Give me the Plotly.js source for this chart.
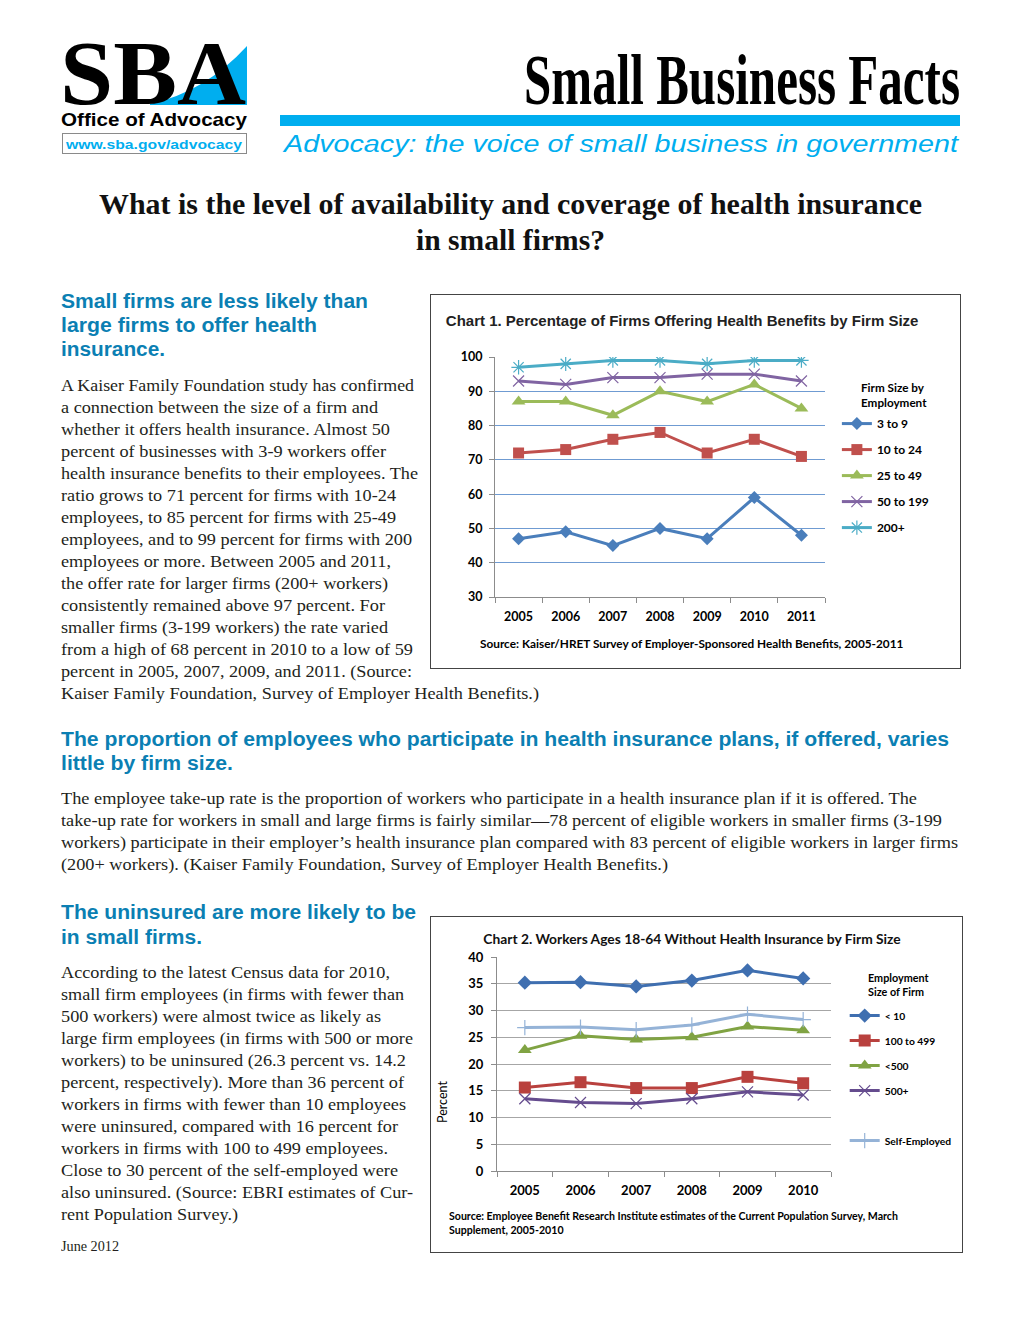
<!DOCTYPE html>
<html>
<head>
<meta charset="utf-8">
<script src="https://cdn.plot.ly/plotly-3.0.1.min.js"></script>
<style>
  html, body { margin:0; padding:0; background:#fff; }
  #page { position:relative; width:1020px; height:1320px; overflow:hidden; background:#fff; }
  .ln { position:absolute; white-space:nowrap; transform-origin:0 50%; }
  .body { font-family:'Liberation Serif','Times New Roman',serif; font-size:16.5px; line-height:22px; height:22px; color:#231f20; }
  .h { font-family:'Liberation Sans',Arial,sans-serif; font-weight:bold; font-size:19.5px; line-height:24px; height:24px; color:#0b7fb3; }
  .ttl { font-family:'Liberation Serif','Times New Roman',serif; font-weight:bold; font-size:30px; line-height:36px; height:36px; color:#111; }
  .box { position:absolute; border:1px solid #444; background:#fff; }
  .chart { position:absolute; }
</style>
</head>
<body>
<div id="page">
  <!-- Logo -->
  <svg style="position:absolute;left:0;top:0" width="260" height="170">
    <path d="M150 104 Q205 92 247 46 L247 105 L150 105 Z" fill="#00aeef"/>
    <text x="60" y="104" font-family="Liberation Serif, Times New Roman, serif" font-weight="bold" font-size="90" textLength="186" lengthAdjust="spacingAndGlyphs" fill="#000">SBA</text>
    <text x="61" y="126" font-family="Liberation Sans, Arial, sans-serif" font-weight="bold" font-size="19" textLength="186" lengthAdjust="spacingAndGlyphs" fill="#000">Office of Advocacy</text>
    <rect x="62.5" y="133.5" width="184" height="20" fill="none" stroke="#8a8a8a" stroke-width="1"/>
    <text x="66" y="148.5" font-family="Liberation Sans, Arial, sans-serif" font-weight="bold" font-size="13.5" textLength="176" lengthAdjust="spacingAndGlyphs" fill="#00aeef">www.sba.gov/advocacy</text>
  </svg>

  <div class="ln" style="left:524px;top:44px;font-family:'Liberation Serif','Times New Roman',serif;font-weight:bold;font-size:72px;line-height:72px;height:72px;color:#000" data-w="436">Small Business Facts</div>
  <div style="position:absolute;left:280px;top:115px;width:680px;height:11px;background:#00aeef"></div>
  <div class="ln" style="left:284px;top:130px;font-family:'Liberation Sans',Arial,sans-serif;font-style:italic;font-size:23px;line-height:28px;height:28px;color:#00aeef" data-w="674">Advocacy: the voice of small business in government</div>

  <div class="ln ttl" style="left:99px;top:186px" data-w="823">What is the level of availability and coverage of health insurance</div>
  <div class="ln ttl" style="left:416px;top:222px" data-w="189">in small firms?</div>

  <!-- Section 1 -->
  <div class="ln h" style="left:61px;top:289px" data-w="307">Small firms are less likely than</div>
  <div class="ln h" style="left:61px;top:313px" data-w="256">large firms to offer health</div>
  <div class="ln h" style="left:61px;top:337px" data-w="104">insurance.</div>

  <div class="ln body" style="left:61px;top:375px" data-w="353">A Kaiser Family Foundation study has confirmed</div>
  <div class="ln body" style="left:61px;top:397px" data-w="317">a connection between the size of a firm and</div>
  <div class="ln body" style="left:61px;top:419px" data-w="329">whether it offers health insurance. Almost 50</div>
  <div class="ln body" style="left:61px;top:441px" data-w="325">percent of businesses with 3-9 workers offer</div>
  <div class="ln body" style="left:61px;top:463px" data-w="357">health insurance benefits to their employees. The</div>
  <div class="ln body" style="left:61px;top:485px" data-w="335">ratio grows to 71 percent for firms with 10-24</div>
  <div class="ln body" style="left:61px;top:507px" data-w="335">employees, to 85 percent for firms with 25-49</div>
  <div class="ln body" style="left:61px;top:529px" data-w="351">employees, and to 99 percent for firms with 200</div>
  <div class="ln body" style="left:61px;top:551px" data-w="330">employees or more. Between 2005 and 2011,</div>
  <div class="ln body" style="left:61px;top:573px" data-w="327">the offer rate for larger firms (200+ workers)</div>
  <div class="ln body" style="left:61px;top:595px" data-w="324">consistently remained above 97 percent. For</div>
  <div class="ln body" style="left:61px;top:617px" data-w="327">smaller firms (3-199 workers) the rate varied</div>
  <div class="ln body" style="left:61px;top:639px" data-w="352">from a high of 68 percent in 2010 to a low of 59</div>
  <div class="ln body" style="left:61px;top:661px" data-w="351">percent in 2005, 2007, 2009, and 2011. (Source:</div>
  <div class="ln body" style="left:61px;top:683px" data-w="478">Kaiser Family Foundation, Survey of Employer Health Benefits.)</div>

  <!-- Section 2 -->
  <div class="ln h" style="left:61px;top:727px" data-w="888">The proportion of employees who participate in health insurance plans, if offered, varies</div>
  <div class="ln h" style="left:61px;top:751px" data-w="172">little by firm size.</div>
  <div class="ln body" style="left:61px;top:788px" data-w="856">The employee take-up rate is the proportion of workers who participate in a health insurance plan if it is offered. The</div>
  <div class="ln body" style="left:61px;top:810px" data-w="881">take-up rate for workers in small and large firms is fairly similar—78 percent of eligible workers in smaller firms (3-199</div>
  <div class="ln body" style="left:61px;top:832px" data-w="897">workers) participate in their employer’s health insurance plan compared with 83 percent of eligible workers in larger firms</div>
  <div class="ln body" style="left:61px;top:854px" data-w="607">(200+ workers). (Kaiser Family Foundation, Survey of Employer Health Benefits.)</div>

  <!-- Section 3 -->
  <div class="ln h" style="left:61px;top:900px" data-w="355">The uninsured are more likely to be</div>
  <div class="ln h" style="left:61px;top:925px" data-w="141">in small firms.</div>
  <div class="ln body" style="left:61px;top:962px" data-w="329">According to the latest Census data for 2010,</div>
  <div class="ln body" style="left:61px;top:984px" data-w="343">small firm employees (in firms with fewer than</div>
  <div class="ln body" style="left:61px;top:1006px" data-w="320">500 workers) were almost twice as likely as</div>
  <div class="ln body" style="left:61px;top:1028px" data-w="352">large firm employees (in firms with 500 or more</div>
  <div class="ln body" style="left:61px;top:1050px" data-w="345">workers) to be uninsured (26.3 percent vs. 14.2</div>
  <div class="ln body" style="left:61px;top:1072px" data-w="343">percent, respectively). More than 36 percent of</div>
  <div class="ln body" style="left:61px;top:1094px" data-w="345">workers in firms with fewer than 10 employees</div>
  <div class="ln body" style="left:61px;top:1116px" data-w="337">were uninsured, compared with 16 percent for</div>
  <div class="ln body" style="left:61px;top:1138px" data-w="327">workers in firms with 100 to 499 employees.</div>
  <div class="ln body" style="left:61px;top:1160px" data-w="337">Close to 30 percent of the self-employed were</div>
  <div class="ln body" style="left:61px;top:1182px" data-w="352">also uninsured. (Source: EBRI estimates of Cur-</div>
  <div class="ln body" style="left:61px;top:1204px" data-w="177">rent Population Survey.)</div>
  <div class="ln body" style="left:61px;top:1238px;font-size:14px;line-height:18px;height:18px" data-w="58">June 2012</div>

  <div class="box" style="left:430px;top:294px;width:529px;height:373px"></div>
  <div id="chart1" class="chart" style="left:431px;top:295px;width:529px;height:373px"></div>
  <div class="box" style="left:430px;top:916px;width:531px;height:335px"></div>
  <div id="chart2" class="chart" style="left:431px;top:917px;width:530px;height:334px"></div>
</div>

<script>
// ---------- Chart 1 data ----------
const years1 = ['2005', '2006', '2007', '2008', '2009', '2010', '2011'];
const firms3to9 = [47, 49, 45, 50, 47, 59, 48];
const firms10to24 = [72, 73, 76, 78, 72, 76, 71];
const firms25to49 = [87, 87, 83, 90, 87, 92, 85];
const firms50to199 = [93, 92, 94, 94, 95, 95, 93];
const firms200plus = [97, 98, 99, 99, 98, 99, 99];
const names1 = ['3 to 9', '10 to 24', '25 to 49', '50 to 199', '200+'];

// ---------- Chart 2 data ----------
const years2 = ['2005', '2006', '2007', '2008', '2009', '2010'];
const under10 = [35.2, 35.3, 34.5, 35.6, 37.5, 36.0];
const size100to499 = [15.6, 16.6, 15.5, 15.5, 17.6, 16.4];
const under500 = [22.6, 25.3, 24.6, 25.0, 27.0, 26.3];
const size500plus = [13.5, 12.8, 12.6, 13.5, 14.8, 14.2];
const selfEmployed = [26.8, 26.9, 26.4, 27.3, 29.3, 28.3];
const names2 = ['< 10', '100 to 499', '<500', '500+', 'Self-Employed'];

// scale text lines to their measured widths
function fitLines() {
  document.querySelectorAll('.ln[data-w]').forEach(el => {
    el.style.transform = 'none';
    const w = el.getBoundingClientRect().width;
    const target = parseFloat(el.dataset.w);
    if (w > 0) el.style.transform = 'scaleX(' + (target / w) + ')';
  });
}

const LATO = 'Lato, Calibri, sans-serif';

function line1(name, y, color, symbol, size, group, mline) {
  return {
    type: 'scatter', mode: 'lines+markers', name: name, x: years1, y: y,
    legendgroup: group,
    line: { color: color, width: 3 },
    marker: { symbol: symbol, size: size, color: color,
              line: mline || { width: 0 } },
    hoverinfo: 'skip'
  };
}

const data1 = [
  line1(names1[0], firms3to9, '#4a7ebb', 'diamond', 10, 'a'),
  line1(names1[1], firms10to24, '#c0504d', 'square', 11, 'b'),
  line1(names1[2], firms25to49, '#9bbb59', 'triangle-up', 12, 'c'),
  line1(names1[3], firms50to199, '#8064a2', 'x-thin-open', 11, 'd', { color: '#9a82bf', width: 1.2 }),
  line1(names1[4], firms200plus, '#4bacc6', 'asterisk-open', 12, 'e', { color: '#4bacc6', width: 1.2 })
];

const layout1 = {
  width: 529, height: 373,
  margin: { l: 64, r: 135, t: 62, b: 71, pad: 0, autoexpand: false },
  paper_bgcolor: 'rgba(0,0,0,0)', plot_bgcolor: 'rgba(0,0,0,0)',
  title: { text: 'Chart 1. Percentage of Firms Offering Health Benefits by Firm Size',
           font: { family: 'Liberation Sans, Arial, sans-serif', size: 15, color: '#222', weight: 'bold' },
           xref: 'container', yref: 'container', x: 0.028, xanchor: 'left', y: 0.930, yanchor: 'middle' },
  xaxis: { type: 'category', range: [-0.5, 6.5], showline: true, linecolor: '#8c8c8c', linewidth: 1,
           ticks: 'outside', tickson: 'boundaries', ticklen: 5, tickcolor: '#8c8c8c',
           ticklabelstandoff: 8,
           showgrid: false, zeroline: false, fixedrange: true,
           tickfont: { family: LATO, size: 12.5, color: '#000', weight: 'bold' } },
  yaxis: { range: [30, 100], dtick: 10, showline: true, linecolor: '#8c8c8c', linewidth: 1,
           ticks: 'outside', ticklen: 5, tickcolor: '#8c8c8c', ticklabelstandoff: 4,
           showgrid: true, gridcolor: '#6f9bd2', gridwidth: 1, zeroline: false, fixedrange: true,
           tickfont: { family: LATO, size: 12.5, color: '#000', weight: 'bold' } },
  showlegend: true,
  legend: { x: 1.036, xanchor: 'left', y: 0.783, yanchor: 'top', bgcolor: 'rgba(0,0,0,0)',
            borderwidth: 0, tracegroupgap: 7, traceorder: 'grouped',
            font: { family: LATO, size: 12, color: '#000', weight: 'bold' } },
  annotations: [
    { text: 'Firm Size by<br>Employment', xref: 'paper', yref: 'paper', x: 1.103, y: 0.842,
      xanchor: 'left', yanchor: 'middle', align: 'left', showarrow: false,
      font: { family: LATO, size: 11.7, color: '#000', weight: 'bold' } },
    { text: 'Source: Kaiser/HRET Survey of Employer-Sponsored Health Benefits, 2005-2011',
      xref: 'paper', yref: 'paper', x: 0.597, y: -0.192, xanchor: 'center', yanchor: 'middle',
      showarrow: false, font: { family: LATO, size: 11.8, color: '#000', weight: 'bold' } }
  ]
};

function line2(name, y, color, symbol, size, group, mcolor, mline) {
  return {
    type: 'scatter', mode: 'lines+markers', name: name, x: years2, y: y,
    legendgroup: group,
    line: { color: color, width: 3 },
    marker: { symbol: symbol, size: size, color: mcolor || color,
              line: mline || { width: 0 } },
    hoverinfo: 'skip'
  };
}

const data2 = [
  line2(names2[0], under10, '#3f6fb0', 'diamond', 11, 'a'),
  line2(names2[1], size100to499, '#b9413e', 'square', 12, 'b'),
  line2(names2[2], under500, '#80a343', 'triangle-up', 12, 'c'),
  line2(names2[3], size500plus, '#654c8e', 'x-thin-open', 11, 'd', null, { color: '#8d74b3', width: 1.2 }),
  { type: 'scatter', mode: 'lines', name: ' ', x: [null], y: [null], legendgroup: 'e',
    line: { width: 0, color: 'rgba(0,0,0,0)' }, hoverinfo: 'skip' },
  line2(names2[4], selfEmployed, '#95b3d7', 'cross-thin-open', 11, 'f', null, { color: '#95b3d7', width: 1.2 })
];

const layout2 = {
  width: 530, height: 334,
  margin: { l: 66, r: 130, t: 40, b: 80, pad: 0, autoexpand: false },
  paper_bgcolor: 'rgba(0,0,0,0)', plot_bgcolor: 'rgba(0,0,0,0)',
  title: { text: 'Chart 2. Workers Ages 18-64 Without Health Insurance by Firm Size',
           font: { family: LATO, size: 13.8, color: '#111', weight: 'bold' },
           xref: 'container', yref: 'container', x: 0.4925, xanchor: 'center', y: 0.934, yanchor: 'middle' },
  xaxis: { type: 'category', range: [-0.5, 5.5], showline: true, linecolor: '#8c8c8c', linewidth: 1,
           ticks: 'outside', tickson: 'boundaries', ticklen: 5, tickcolor: '#8c8c8c',
           ticklabelstandoff: 7,
           showgrid: false, zeroline: false, fixedrange: true,
           tickfont: { family: LATO, size: 13, color: '#000', weight: 'bold' } },
  yaxis: { range: [0, 40], dtick: 5, showline: true, linecolor: '#8c8c8c', linewidth: 1,
           ticks: 'outside', ticklen: 5, tickcolor: '#8c8c8c', ticklabelstandoff: 5,
           showgrid: true, gridcolor: '#a6a6a6', gridwidth: 1, zeroline: false, fixedrange: true,
           tickfont: { family: LATO, size: 13, color: '#000', weight: 'bold' } },
  showlegend: true,
  legend: { x: 1.041, xanchor: 'left', y: 0.794, yanchor: 'top', bgcolor: 'rgba(0,0,0,0)',
            borderwidth: 0, tracegroupgap: 6, traceorder: 'grouped',
            font: { family: LATO, size: 10.3, color: '#000', weight: 'bold' } },
  annotations: [
    { text: 'Employment<br>Size of Firm', xref: 'paper', yref: 'paper', x: 1.105, y: 0.871,
      xanchor: 'left', yanchor: 'middle', align: 'left', showarrow: false,
      font: { family: LATO, size: 10.8, color: '#000', weight: 'bold' } },
    { text: 'Percent', textangle: -90, xref: 'paper', yref: 'paper', x: -0.165, y: 0.322,
      xanchor: 'center', yanchor: 'middle', showarrow: false,
      font: { family: LATO, size: 12.5, color: '#000' } },
    { text: 'Source: Employee Benefit Research Institute estimates of the Current Population Survey, March<br>Supplement, 2005-2010',
      xref: 'paper', yref: 'paper', x: -0.15, y: -0.243, xanchor: 'left', yanchor: 'middle', align: 'left',
      showarrow: false, font: { family: LATO, size: 10.6, color: '#000', weight: 'bold' } }
  ]
};

const cfg = { staticPlot: true, displayModeBar: false };
Plotly.newPlot('chart1', data1, layout1, cfg);
Plotly.newPlot('chart2', data2, layout2, cfg);

fitLines();
if (document.fonts && document.fonts.ready) document.fonts.ready.then(fitLines);
</script>
</body>
</html>
